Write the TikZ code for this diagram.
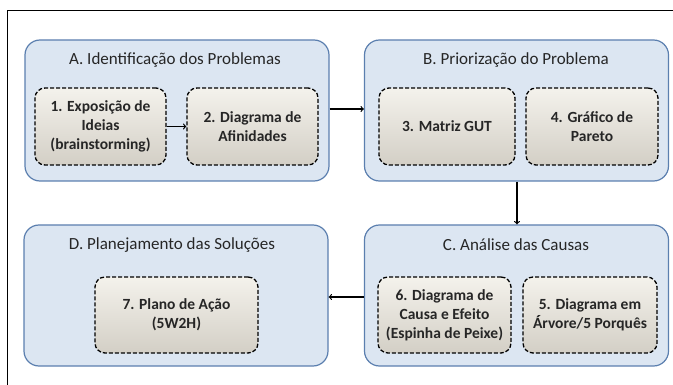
\documentclass[tikz,border=0pt]{standalone}
\usepackage{fontspec}
\setmainfont{Carlito}
\definecolor{stepfill}{HTML}{DCE6F2}
\definecolor{stepline}{HTML}{5B7FAF}
\definecolor{tooltop}{HTML}{F4F2EC}
\definecolor{toolbot}{HTML}{D3CFC6}
\begin{document}
\begin{tikzpicture}[x=1pt, y=-1pt,
        stagebox/.style={draw=stepline, fill=stepfill, line width=1.2pt, rounded corners=15pt,
            minimum width=304pt, minimum height=141pt, inner sep=0pt},
        stagetitle/.style={font=\fontsize{17}{20}\selectfont, text=black!85},
        toolbox/.style={draw=black, dash pattern=on 4pt off 2pt, line width=1.3pt, rounded corners=10pt,
            top color=tooltop, bottom color=toolbot, minimum height=77pt, inner sep=1pt,
            align=center, font=\fontsize{15.5}{19}\selectfont\bfseries, text=black!85},
        flow/.style={->, line width=1.2pt}]
        \useasboundingbox (0,0) rectangle (673,385);
        % frame
        \draw[line width=1pt] (673,11) -- (7,11) -- (7,385);

        % A. Identificacao
        \node[stagebox] (A) at (177,110.5) {};
        \node[stagetitle] (Atitle) at (175,60) {A. Identificação dos Problemas};
        \node[toolbox, minimum width=131pt] (t1) at (100.5,126.5) {1. Exposição de\\Ideias\\(brainstorming)};
        \node[toolbox, minimum width=131pt] (t2) at (252.5,126.5) {2. Diagrama de\\Afinidades};

        % B. Priorizacao
        \node[stagebox] (B) at (516.5,110.5) {};
        \node[stagetitle] (Btitle) at (516,60) {B. Priorização do Problema};
        \node[toolbox, minimum width=136pt] (t3) at (447,126.5) {3. Matriz GUT};
        \node[toolbox, minimum width=132pt] (t4) at (592,126.5) {4. Gráfico de\\Pareto};

        % C. Analise
        \node[stagebox] (C) at (516.5,295.5) {};
        \node[stagetitle] (Ctitle) at (516,245) {C. Análise das Causas};
        \node[toolbox, minimum width=133pt, minimum height=76pt] (t6) at (444.5,315) {6. Diagrama de\\Causa e Efeito\\(Espinha de Peixe)};
        \node[toolbox, minimum width=134pt, minimum height=76pt] (t5) at (590,315) {5. Diagrama em\\Árvore/5 Porquês};

        % D. Planejamento
        \node[stagebox] (D) at (176,295.5) {};
        \node[stagetitle] (Dtitle) at (172,245) {D. Planejamento das Soluções};
        \node[toolbox, minimum width=163pt, minimum height=76pt] (t7) at (176.5,315) {7. Plano de Ação\\(5W2H)};

        % arrows
        \draw[flow] (t1) -- (t2);
        \draw[flow] (A.east |- 0,109) -- (B.west |- 0,109);
        \draw[flow] (B.south -| 517,0) -- (C.north -| 517,0);
        \draw[flow] (C.west |- 0,297) -- (D.east |- 0,297);
\end{tikzpicture}
\end{document}
